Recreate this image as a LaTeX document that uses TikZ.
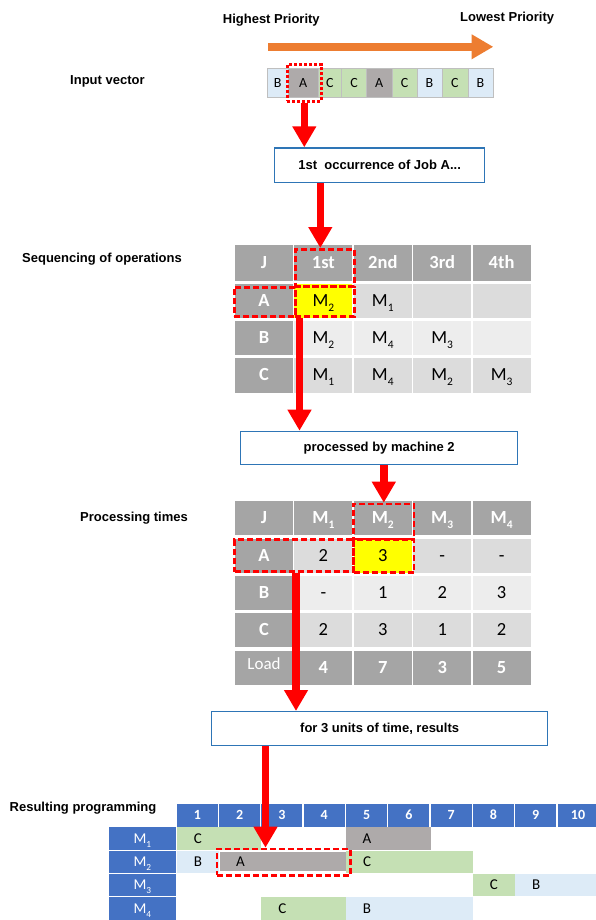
\documentclass[tikz,border=0pt]{standalone}
\usepackage{fontspec}
\usepackage{graphicx}
\setmainfont{Carlito}
\newfontfamily\arl{Liberation Sans}
\usetikzlibrary{arrows.meta}
\definecolor{hdr}{HTML}{A5A5A5}
\definecolor{rowA}{HTML}{DCDCDC}
\definecolor{rowB}{HTML}{EDEDED}
\definecolor{jobA}{HTML}{AEAAAA}
\definecolor{jobB}{HTML}{DDEBF7}
\definecolor{jobC}{HTML}{C5E0B4}
\definecolor{gblue}{HTML}{4472C4}
\definecolor{bxblue}{HTML}{2E75B6}
\definecolor{orng}{HTML}{ED7D31}
\definecolor{hlred}{HTML}{FF0000}
\definecolor{hlyel}{HTML}{FFFF00}
\definecolor{ivgray}{HTML}{BFBFBF}
\newcommand\Ms[1]{M\raisebox{-0.26em}{\scalebox{0.62}{#1}}}
\tikzset{
  lbl/.style={anchor=base west, inner sep=0pt, font=\arl\bfseries\fontsize{13}{15}\selectfont},
  tbox/.style={anchor=north west, draw=bxblue, line width=1.3pt, fill=white, inner sep=0pt,
     font=\arl\bfseries\fontsize{13}{15}\selectfont},
  redarrow/.style={draw=hlred, line width=7.5pt, -{Triangle[width=22.7pt,length=21pt]}},
  dashbox/.style={anchor=north west, draw=hlred, line width=2.6pt, dash pattern=on 6pt off 3pt, inner sep=0pt},
  dotbox/.style={anchor=north west, draw=hlred, line width=2.6pt, dash pattern=on 3pt off 2pt, inner sep=0pt},
  ivc/.style={anchor=north west, inner sep=0pt, minimum height=28.4pt, draw=ivgray, line width=0.8pt,
     font=\fontsize{14}{16}\selectfont, text height=9pt, text depth=0pt},
  cellbase/.style={anchor=north west, inner sep=0pt, outer sep=0pt, minimum width=58pt,
     text height=11.5pt, text depth=0pt, font=\fontsize{18.5}{20}\selectfont, text=black},
  hd/.style={cellbase, fill=hdr, text=white, font=\bfseries\fontsize{18.5}{20}\selectfont},
  ca/.style={cellbase, fill=rowA},
  cb/.style={cellbase, fill=rowB},
  gh/.style={anchor=north west, inner sep=0pt, fill=gblue, text=white, minimum width=41pt,
     minimum height=23.4pt, text height=9pt, text depth=0pt, font=\bfseries\fontsize{14}{16}\selectfont},
  gm/.style={anchor=north west, inner sep=0pt, fill=gblue, text=white, minimum width=67.7pt,
     minimum height=22.4pt, text height=9.5pt, text depth=0pt, font=\fontsize{15}{17}\selectfont},
  bar/.style={anchor=north west, inner sep=0pt, minimum height=22.4pt},
  blbl/.style={label={[anchor=center, xshift=21.15pt, inner sep=0pt, text height=9.5pt, text depth=0pt,
     font=\fontsize{15}{17}\selectfont]west:#1}}
}
\begin{document}
\begin{tikzpicture}[x=1pt,y=-1pt]
\useasboundingbox (0,0) rectangle (596,920);
\fill[white] (0,0) rectangle (596,920);

% labels
\node[lbl] (hp) at (222.7,24) {Highest Priority};
\node[lbl] (lp) at (460,21.7) {Lowest Priority};
\node[lbl] (ivl) at (70,85) {Input vector};
\node[lbl] (sql) at (22,262.3) {Sequencing of operations};
\node[lbl] (ptl) at (80,521.7) {Processing times};
\node[lbl] (rpl) at (9.5,811.7) {Resulting programming};

% priority arrow
\coordinate (o1) at (268.3,46.8);
\coordinate (o2) at (493.3,46.8);
\draw[orng, line width=8.3pt, -{Triangle[width=23.3pt,length=21.6pt]}] (o1) -- (o2);

% input vector
\foreach \n/\a/\b/\c/\t in {1/266.7/287.8/jobB/B, 2/287.8/317.5/jobA/A, 3/317.5/341.2/jobC/C,
   4/341.2/366.2/jobC/C, 5/366.2/391.5/jobA/A, 6/391.5/416.7/jobC/C, 7/416.7/441.5/jobB/B,
   8/441.5/467.5/jobC/C, 9/467.5/492.7/jobB/B}
  \node[ivc, fill=\c, minimum width={\b-\a}] (iv\n) at (\a,68.3) {\t};
\node[dotbox, minimum width=34pt, minimum height=36.7pt] (ivbox) at (286,63.3) {};

% boxes
\node[tbox, minimum width=210pt, minimum height=34.4pt] (box1) at (274,147.3) {1st~ occurrence of Job A...};
\node[tbox, minimum width=277pt, minimum height=33.3pt] (box2) at (240,430.7) {processed by machine 2};
\node[tbox, minimum width=336pt, minimum height=34pt] (box3) at (211,711) {for 3 units of time, results};

% sequencing table
\node[hd, minimum height=35.5pt] (sJ) at (235,245) {J};
\node[hd, minimum height=35.5pt] (s1) at (294.4,245) {1st};
\node[hd, minimum height=35.5pt] (s2) at (353.8,245) {2nd};
\node[hd, minimum height=35.5pt] (s3) at (413.2,245) {3rd};
\node[hd, minimum height=35.5pt] (s4) at (472.6,245) {4th};
\node[hd, minimum height=34.5pt] (sA) at (235,283.5) {A};
\node[cellbase, fill=hlyel, minimum height=34.5pt] (sA1) at (294.4,283.5) {\Ms{2}};
\node[ca, minimum height=34.5pt] (sA2) at (353.8,283.5) {\Ms{1}};
\node[ca, minimum height=34.5pt] (sA3) at (413.2,283.5) {};
\node[ca, minimum height=34.5pt] (sA4) at (472.6,283.5) {};
\node[hd, minimum height=34.5pt] (sB) at (235,320.5) {B};
\node[cb, minimum height=34.5pt] (sB1) at (294.4,320.5) {\Ms{2}};
\node[cb, minimum height=34.5pt] (sB2) at (353.8,320.5) {\Ms{4}};
\node[cb, minimum height=34.5pt] (sB3) at (413.2,320.5) {\Ms{3}};
\node[cb, minimum height=34.5pt] (sB4) at (472.6,320.5) {};
\node[hd, minimum height=35pt] (sC) at (235,357.5) {C};
\node[ca, minimum height=35pt] (sC1) at (294.4,357.5) {\Ms{1}};
\node[ca, minimum height=35pt] (sC2) at (353.8,357.5) {\Ms{4}};
\node[ca, minimum height=35pt] (sC3) at (413.2,357.5) {\Ms{2}};
\node[ca, minimum height=35pt] (sC4) at (472.6,357.5) {\Ms{3}};
\node[dashbox, minimum width=59.3pt, minimum height=37pt] (sbx1) at (294,248) {};
\node[dashbox, minimum width=61pt, minimum height=29pt] (sbxA) at (233,286) {};
\node[dashbox, minimum width=59.3pt, minimum height=30pt] (sbxM) at (294,285) {};

% processing table
\node[hd, minimum height=33.5pt] (pJ) at (235,501) {J};
\node[hd, minimum height=33.5pt] (p1) at (294.4,501) {\Ms{1}};
\node[hd, minimum height=33.5pt] (p2) at (353.8,501) {\Ms{2}};
\node[hd, minimum height=33.5pt] (p3) at (413.2,501) {\Ms{3}};
\node[hd, minimum height=33.5pt] (p4) at (472.6,501) {\Ms{4}};
\node[hd, minimum height=34pt] (pA) at (235,538.5) {A};
\node[ca, minimum height=34pt] (pA1) at (294.4,538.5) {2};
\node[cellbase, fill=hlyel, minimum height=34pt] (pA2) at (353.8,538.5) {3};
\node[ca, minimum height=34pt] (pA3) at (413.2,538.5) {-};
\node[ca, minimum height=34pt] (pA4) at (472.6,538.5) {-};
\node[hd, minimum height=34.5pt] (pB) at (235,575.5) {B};
\node[cb, minimum height=34.5pt] (pB1) at (294.4,575.5) {-};
\node[cb, minimum height=34.5pt] (pB2) at (353.8,575.5) {1};
\node[cb, minimum height=34.5pt] (pB3) at (413.2,575.5) {2};
\node[cb, minimum height=34.5pt] (pB4) at (472.6,575.5) {3};
\node[hd, minimum height=34pt] (pC) at (235,612.5) {C};
\node[ca, minimum height=34pt] (pC1) at (294.4,612.5) {2};
\node[ca, minimum height=34pt] (pC2) at (353.8,612.5) {3};
\node[ca, minimum height=34pt] (pC3) at (413.2,612.5) {1};
\node[ca, minimum height=34pt] (pC4) at (472.6,612.5) {2};
\node[hd, minimum height=34pt, font=\fontsize{17}{19}\selectfont, text height=4pt] (pL) at (235,650.5) {Load};
\node[hd, minimum height=34pt] (pL1) at (294.4,650.5) {4};
\node[hd, minimum height=34pt] (pL2) at (353.8,650.5) {7};
\node[hd, minimum height=34pt] (pL3) at (413.2,650.5) {3};
\node[hd, minimum height=34pt] (pL4) at (472.6,650.5) {5};
\node[dashbox, minimum width=60.4pt, minimum height=35pt] (pbx2) at (352.3,502.7) {};
\node[dashbox, minimum width=119pt, minimum height=32pt] (pbxA) at (233.3,538.3) {};
\node[dashbox, minimum width=60.4pt, minimum height=32.7pt] (pbxM) at (352.3,538.3) {};

% gantt
\foreach \i in {1,...,10}
  \node[gh] (gh\i) at ({176.7+42.29*(\i-1)},803.3) {\i};
\foreach \r in {1,...,4}
  \node[gm] (gm\r) at (108.3,{827+23.4*(\r-1)}) {\Ms{\r}};
\node[bar, fill=jobC, minimum width=84.58pt, blbl=C] (gC1) at (176.7,827) {};
\node[bar, fill=jobA, minimum width=84.58pt, blbl=A] (gA1) at (345.86,827) {};
\node[bar, fill=jobB, minimum width=42.29pt, blbl=B] (gB2) at (176.7,850.4) {};
\node[bar, fill=jobC, minimum width=126.87pt, blbl=C] (gC2) at (345.86,850.4) {};
\node[bar, fill=jobA, minimum width=126.4pt, minimum height=19.7pt, blbl=A] (gA2) at (219.3,851.3) {};
\node[bar, fill=jobC, minimum width=42.29pt, blbl=C] (gC3) at (472.73,873.8) {};
\node[bar, fill=jobB, minimum width=82pt, blbl=B] (gB3) at (515.02,873.8) {};
\node[bar, fill=jobC, minimum width=84.58pt, blbl=C] (gC4) at (261.28,897.2) {};
\node[bar, fill=jobB, minimum width=126.87pt, blbl=B] (gB4) at (345.86,897.2) {};
\node[dashbox, minimum width=133.3pt, minimum height=26.3pt] (gbx) at (215.7,847.7) {};

% red arrows
\coordinate (x2) at (320.3,0);
\coordinate (x3) at (299.5,0);
\coordinate (x5) at (296,0);
\coordinate (x6) at (265.5,0);
\draw[redarrow] (ivbox.south) -- (ivbox.south |- box1.north);
\draw[redarrow] (box1.south -| x2) -- (sbx1.north -| x2);
\draw[redarrow] (sbxM.south -| x3) -- (box2.north -| x3);
\draw[redarrow] (box2.south -| pbx2.north) -- (pbx2.north);
\draw[redarrow] (pbxA.south -| x5) -- (box3.north -| x5);
\draw[redarrow] (box3.south -| x6) -- (gbx.north -| x6);
\end{tikzpicture}
\end{document}
